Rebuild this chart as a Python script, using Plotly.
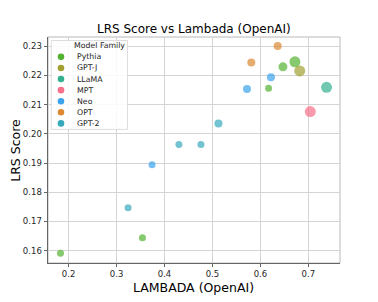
import plotly.graph_objects as go

# ---- data ----
families = ["Pythia", "GPT-J", "LLaMA", "MPT", "Neo", "OPT", "GPT-2"]
colors = ["#52b232", "#a3a032", "#33b08e", "#f77189", "#3ba3ec", "#dc8932", "#38a9bd"]

pythia_x = [0.183, 0.354, 0.617, 0.647, 0.672]
pythia_y = [0.1591, 0.1644, 0.2156, 0.2229, 0.2246]
gptj_x = [0.682]
gptj_y = [0.2215]
llama_x = [0.738]
llama_y = [0.2159]
mpt_x = [0.704]
mpt_y = [0.2076]
neo_x = [0.374, 0.572, 0.622]
neo_y = [0.1894, 0.2153, 0.2193]
opt_x = [0.581, 0.636]
opt_y = [0.2244, 0.2300]
gpt2_x = [0.324, 0.430, 0.476, 0.5125]
gpt2_y = [0.1747, 0.1963, 0.1963, 0.2035]

xs = [pythia_x, gptj_x, llama_x, mpt_x, neo_x, opt_x, gpt2_x]
ys = [pythia_y, gptj_y, llama_y, mpt_y, neo_y, opt_y, gpt2_y]

# relative model-size encoding (marker diameter)
pythia_s = [7, 7, 7, 9, 11]
gptj_s = [11]
llama_s = [11]
mpt_s = [11]
neo_s = [7, 8, 8]
opt_s = [8, 8]
gpt2_s = [7, 7, 7, 8]
ss = [pythia_s, gptj_s, llama_s, mpt_s, neo_s, opt_s, gpt2_s]

x_ticks = [0.2, 0.3, 0.4, 0.5, 0.6, 0.7]
y_ticks = [0.16, 0.17, 0.18, 0.19, 0.20, 0.21, 0.22, 0.23]

FONT = "DejaVu Sans"
W, H = 378, 302
L, R, T, B = 47.7, 340.0, 37.0, 263.3

fig = go.Figure()
for fam, col, x, y, s in zip(families, colors, xs, ys, ss):
    fig.add_trace(go.Scatter(
        x=x, y=y, mode="markers", name=fam, showlegend=False,
        marker=dict(color=col, size=s, line=dict(width=0)),
    ))

def px2paper(px, py):
    return (px - L) / (R - L), (B - py) / (B - T)

annotations = []
shapes = []

# axis titles
ax, ay = px2paper((L + R) / 2, 287.5)
annotations.append(dict(text="LAMBADA (OpenAI)", xref="paper", yref="paper", x=ax, y=ay,
                        xanchor="center", yanchor="middle", showarrow=False, borderpad=0,
                        font=dict(family=FONT, size=12.5, color="black")))
ax, ay = px2paper(14.5, (T + B) / 2)
annotations.append(dict(text="LRS Score", xref="paper", yref="paper", x=ax, y=ay, textangle=-90,
                        xanchor="center", yanchor="middle", showarrow=False,
                        font=dict(family=FONT, size=12.5, color="black")))

# custom legend (matplotlib-like compact legend)
bx0, by0 = px2paper(51, 40.5)
bx1, by1 = px2paper(127.3, 129.5)
shapes.append(dict(type="rect", xref="paper", yref="paper", x0=bx0, y0=by1, x1=bx1, y1=by0,
                   line=dict(color="#dddddd", width=1), fillcolor="rgba(255,255,255,0.85)", layer="above"))
tx, ty = px2paper(99.5, 45.9)
annotations.append(dict(text="Model Family", xref="paper", yref="paper", x=tx, y=ty,
                        xanchor="center", yanchor="middle", showarrow=False,
                        font=dict(family=FONT, size=7.8, color="#262626")))
for i, (fam, col) in enumerate(zip(families, colors)):
    py = 56.9 + i * 11.1
    mx, my = px2paper(60.7, py)
    shapes.append(dict(type="circle", xref="paper", yref="paper", xsizemode="pixel", ysizemode="pixel",
                       xanchor=mx, yanchor=my, x0=-3.3, x1=3.3, y0=-3.3, y1=3.3,
                       fillcolor=col, line=dict(width=0), layer="above"))
    lx, ly = px2paper(74.5, py)
    annotations.append(dict(text=fam, xref="paper", yref="paper", x=lx, y=ly,
                            xanchor="left", yanchor="middle", showarrow=False,
                            font=dict(family=FONT, size=7.8, color="#262626")))

# light frame (top/right spines)
shapes.append(dict(type="rect", xref="paper", yref="paper", x0=0, y0=0, x1=1, y1=1,
                   line=dict(color="#b8b8b8", width=1), layer="below"))

fig.update_layout(
    width=W, height=H,
    margin=dict(l=L, r=W - R, t=T, b=H - B, pad=0, autoexpand=False),
    paper_bgcolor="white", plot_bgcolor="white",
    font=dict(family=FONT, color="#262626"),
    hovermode=False,
    title=dict(text="LRS Score vs Lambada (OpenAI)", x=(L + R) / 2 / W, xanchor="center",
               y=1 - 28.5 / H, yanchor="middle", font=dict(family=FONT, size=12, color="black")),
    xaxis=dict(range=[0.157, 0.766], tickvals=x_ticks, ticktext=[f"{v:.1f}" for v in x_ticks],
               automargin=False,
               showgrid=True, gridcolor="#d4d4d4", gridwidth=1, zeroline=False,
               showline=True, linecolor="#666666", linewidth=1,
               ticks="outside", ticklen=3, tickcolor="#666666",
               tickfont=dict(family=FONT, size=8.5, color="#262626")),
    yaxis=dict(range=[0.1558, 0.2331], tickvals=y_ticks, ticktext=[f"{v:.2f}" for v in y_ticks],
               automargin=False,
               showgrid=True, gridcolor="#d4d4d4", gridwidth=1, zeroline=False,
               showline=True, linecolor="#666666", linewidth=1,
               ticks="outside", ticklen=3.5, tickcolor="#666666",
               tickfont=dict(family=FONT, size=8.5, color="#262626")),
    annotations=annotations, shapes=shapes,
)

fig.write_html("out.html", config={"displayModeBar": False},
               post_script="document.body.style.margin='0';document.body.style.padding='0';")
